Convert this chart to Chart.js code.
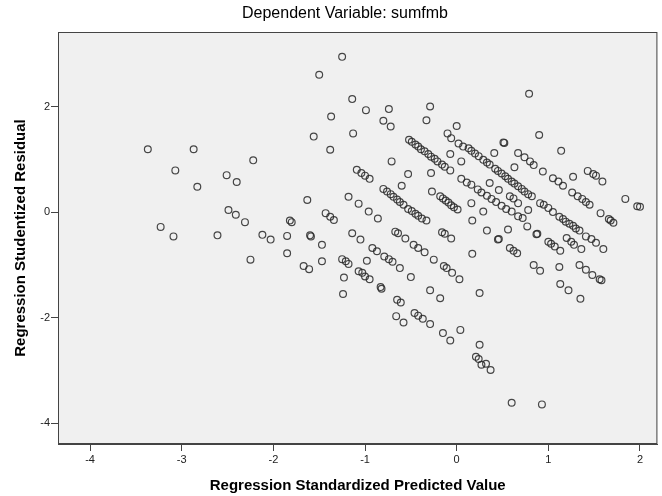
<!DOCTYPE html>
<html>
<head>
  <meta charset="utf-8">
  <title>Scatterplot - sumfmb</title>
  <style>
    body { margin: 0; background: #ffffff; }
    .chart-container { position: relative; width: 662px; height: 496px; }
  </style>
</head>
<body>
  <div class="chart-container">
    <canvas id="myChart" width="662" height="496"></canvas>
  </div>

  <script src="https://cdn.jsdelivr.net/npm/chart.js"></script>
  <script>

    // data: [standardized predicted value, studentized residual]

    const leftGroup = [
      [-3.37, 1.19], [-2.87, 1.19], [-3.07, 0.79], [-2.83, 0.48], [-2.22, 0.98], [-2.51, 0.70],
      [-2.40, 0.57], [-2.49, 0.04], [-2.41, -0.05], [-2.31, -0.19], [-3.23, -0.28], [-3.09, -0.46],
      [-2.61, -0.44], [-2.25, -0.90], [-2.12, -0.43], [-2.03, -0.52]
    ];

    const midLeft = [
      [-1.85, -0.45], [-1.85, -0.78], [-1.82, -0.16], [-1.80, -0.19], [-1.63, 0.23], [-1.60, -0.44],
      [-1.59, -0.46], [-1.67, -1.02], [-1.61, -1.08], [-1.47, -0.62], [-1.47, -0.93], [-1.43, -0.02],
      [-1.38, -0.09], [-1.34, -0.15], [-1.56, 1.43], [-1.50, 2.60], [-1.37, 1.81], [-1.38, 1.18],
      [-1.25, 2.94], [-1.14, 2.14], [-1.13, 1.49], [-0.99, 1.93], [-0.74, 1.95], [-0.80, 1.73],
      [-0.72, 1.62], [-0.29, 2.00], [-0.33, 1.74], [-0.71, 0.96], [-1.09, 0.80], [-1.04, 0.74],
      [-1.00, 0.69], [-0.95, 0.63], [-1.18, 0.29], [-1.07, 0.16], [-0.96, 0.01], [-0.86, -0.12],
      [-1.14, -0.40], [-1.05, -0.52], [-1.25, -0.89], [-1.21, -0.93], [-1.18, -0.98], [-1.23, -1.24],
      [-1.24, -1.55], [-0.98, -0.92], [-1.07, -1.12], [-1.03, -1.15], [-1.00, -1.22], [-0.95, -1.27],
      [-0.83, -1.42], [-0.82, -1.45], [-0.92, -0.68], [-0.87, -0.74], [-0.79, -0.84], [-0.74, -0.89],
      [-0.70, -0.94], [-0.62, -1.06], [-0.50, -1.23], [-0.65, -1.66], [-0.61, -1.71], [-0.66, -1.97],
      [-0.58, -2.09], [-0.46, -1.91], [-0.42, -1.96], [-0.37, -2.02], [-0.29, -2.12], [-0.29, -1.48],
      [-0.18, -1.63], [-0.15, -2.29], [-0.07, -2.43], [-0.67, -0.37], [-0.64, -0.40], [-0.56, -0.50],
      [-0.47, -0.62], [-0.42, -0.68], [-0.35, -0.76], [-0.25, -0.90], [-0.16, -0.38], [-0.13, -0.41],
      [-0.06, -0.50], [-0.14, -1.02], [-0.11, -1.06], [-0.05, -1.15], [0.03, -1.27], [0.04, -2.23]
    ];

    const centerLeft = [
      [-0.52, 1.37], [-0.49, 1.33], [-0.45, 1.28], [-0.42, 1.24], [-0.39, 1.19], [-0.35, 1.15],
      [-0.31, 1.10], [-0.28, 1.05], [-0.24, 1.01], [-0.21, 0.96], [-0.16, 0.90], [-0.13, 0.86],
      [-0.07, 0.79], [-0.10, 1.49], [-0.06, 1.40], [0.00, 1.63], [-0.07, 1.10], [0.05, 0.96],
      [-0.53, 0.72], [-0.28, 0.74], [-0.60, 0.50], [-0.27, 0.39],
      [-0.80, 0.44], [-0.76, 0.39], [-0.72, 0.34], [-0.69, 0.29], [-0.65, 0.24], [-0.62, 0.19],
      [-0.58, 0.14], [-0.53, 0.06], [-0.49, 0.02], [-0.45, -0.03], [-0.42, -0.07], [-0.38, -0.12],
      [-0.33, -0.16], [-0.18, 0.30], [-0.15, 0.26], [-0.12, 0.22], [-0.09, 0.18], [-0.06, 0.13],
      [-0.03, 0.09], [0.01, 0.05]
    ];

    const centerRight = [
      [0.02, 1.30], [0.07, 1.24], [0.13, 1.21], [0.16, 1.16], [0.20, 1.11], [0.24, 1.06],
      [0.29, 0.99], [0.33, 0.94], [0.36, 0.90], [0.42, 0.82], [0.45, 0.78], [0.49, 0.73],
      [0.53, 0.68], [0.56, 0.63], [0.60, 0.58], [0.63, 0.54], [0.67, 0.49], [0.71, 0.44],
      [0.74, 0.39], [0.78, 0.34], [0.82, 0.30],
      [0.05, 0.63], [0.11, 0.56], [0.16, 0.52], [0.23, 0.43], [0.27, 0.37], [0.33, 0.31],
      [0.38, 0.25], [0.43, 0.19], [0.49, 0.12], [0.54, 0.06], [0.60, 0.01], [0.67, -0.08],
      [0.72, -0.11],
      [0.36, 0.55], [0.46, 0.42], [0.29, 0.01], [0.16, 0.17], [0.17, -0.16], [0.33, -0.35],
      [0.45, -0.52], [0.46, -0.51], [0.56, -0.33], [0.58, 0.30], [0.62, 0.26], [0.67, 0.17],
      [0.78, 0.04], [0.77, -0.27], [0.87, -0.42], [0.88, -0.41], [0.91, 0.17], [0.95, 0.14],
      [1.00, 0.08], [1.05, 0.00], [1.00, -0.56], [1.03, -0.60], [1.07, -0.65], [1.13, -0.73],
      [0.58, -0.68], [0.62, -0.73], [0.66, -0.78]
    ];

    const rightGroup = [
      [0.79, 2.24], [0.90, 1.46], [0.51, 1.32], [0.52, 1.31], [1.14, 1.16], [0.41, 1.12],
      [0.67, 1.12], [0.74, 1.04], [0.80, 0.96], [0.84, 0.89], [0.63, 0.85], [0.94, 0.77],
      [1.27, 0.67], [1.05, 0.64], [1.11, 0.58], [1.16, 0.50], [1.43, 0.78], [1.49, 0.72],
      [1.52, 0.69], [1.59, 0.58], [1.84, 0.25], [1.97, 0.11], [2.00, 0.10],
      [1.26, 0.37], [1.32, 0.30], [1.37, 0.25], [1.41, 0.19], [1.45, 0.14], [1.57, -0.02],
      [1.66, -0.13], [1.68, -0.16], [1.71, -0.20], [1.12, -0.09], [1.16, -0.13], [1.19, -0.18],
      [1.23, -0.22], [1.27, -0.26], [1.30, -0.31], [1.34, -0.35], [1.41, -0.46], [1.47, -0.51],
      [1.52, -0.58], [1.60, -0.70], [1.20, -0.49], [1.25, -0.56], [1.28, -0.62], [1.36, -0.70]
    ];

    const lowerRight = [
      [1.34, -1.00], [1.41, -1.09], [1.48, -1.19], [1.56, -1.27], [1.58, -1.29], [1.12, -1.04],
      [1.13, -1.36], [1.22, -1.48], [1.35, -1.64], [0.84, -1.00], [0.91, -1.11], [0.17, -0.79],
      [0.25, -1.53], [0.25, -2.51], [0.21, -2.74], [0.24, -2.78], [0.27, -2.89], [0.32, -2.87],
      [0.37, -2.99], [0.60, -3.61], [0.93, -3.64]
    ];

    // axes
    const xTicks = [-4, -3, -2, -1, 0, 1, 2];
    const yTicks = [-4, -2, 0, 2];
    const xRange = [-4.35, 2.19];
    const yRange = [-4.39, 3.41];

    const titleText = 'Dependent Variable: sumfmb';
    const xTitle = 'Regression Standardized Predicted Value';
    const yTitle = 'Regression Studentized Residual';

    const allPoints = [].concat(leftGroup, midLeft, centerLeft, centerRight, rightGroup, lowerRight)
      .map(p => ({ x: p[0], y: p[1] }));

    // plot background + frame
    const frame = {
      id: 'frame',
      beforeDatasetsDraw(chart) {
        const { ctx, chartArea: a } = chart;
        ctx.save();
        ctx.fillStyle = '#f0f0f0';
        ctx.fillRect(a.left, a.top, a.right - a.left, a.bottom - a.top);
        ctx.restore();
      },
      afterDraw(chart) {
        const { ctx, chartArea: a } = chart;
        ctx.save();
        ctx.strokeStyle = '#444444';
        ctx.lineWidth = 1;
        ctx.strokeRect(a.left + 0.5, a.top + 0.5, a.right - a.left - 1, a.bottom - a.top - 1);
        // chart title (SPSS puts it a bit left of plot centre)
        ctx.fillStyle = '#000000';
        ctx.font = '16px "Liberation Sans", Arial, sans-serif';
        ctx.textAlign = 'center';
        ctx.textBaseline = 'middle';
        ctx.fillText(titleText, 345, 14);
        ctx.restore();
      }
    };

    const tickFont = { family: '"Liberation Sans", Arial, sans-serif', size: 11 };
    const axisTitleFont = { family: '"Liberation Sans", Arial, sans-serif', size: 15, weight: 'bold' };

    const config = {
      type: 'scatter',
      data: {
        datasets: [{
          data: allPoints,
          pointStyle: 'circle',
          pointRadius: 3.4,
          pointBorderWidth: 1.2,
          borderColor: 'rgba(40,40,40,0.85)',
          backgroundColor: 'rgba(0,0,0,0)',
          pointHoverRadius: 3.4
        }]
      },
      options: {
        responsive: false,
        animation: false,
        layout: { padding: { top: 32, right: 2, left: 0, bottom: 0 } },
        plugins: {
          legend: { display: false },
          tooltip: { enabled: false },
          title: { display: false }
        },
        scales: {
          x: {
            type: 'linear',
            min: xRange[0],
            max: xRange[1],
            afterBuildTicks: s => { s.ticks = xTicks.map(v => ({ value: v })); },
            afterFit: s => { s.height = 52; },
            grid: { drawOnChartArea: false, drawTicks: true, tickLength: 7, color: '#444444' },
            border: { display: true, color: '#444444' },
            ticks: { color: '#222222', font: tickFont, padding: 2, maxRotation: 0 },
            title: { display: true, text: xTitle, color: '#000000', font: axisTitleFont, padding: { top: 0, bottom: 1 } }
          },
          y: {
            type: 'linear',
            min: yRange[0],
            max: yRange[1],
            afterBuildTicks: s => { s.ticks = yTicks.map(v => ({ value: v })); },
            afterFit: s => { s.width = 58; },
            grid: { drawOnChartArea: false, drawTicks: true, tickLength: 7, color: '#444444' },
            border: { display: true, color: '#444444' },
            ticks: { color: '#222222', font: tickFont, padding: 1 },
            title: { display: true, text: yTitle, color: '#000000', font: axisTitleFont, padding: { top: 12, bottom: 0 } }
          }
        }
      },
      plugins: [frame]
    };

    var ctx = document.getElementById('myChart').getContext('2d');
    var myChart = new Chart(ctx, config);

  </script>
</body>
</html>
